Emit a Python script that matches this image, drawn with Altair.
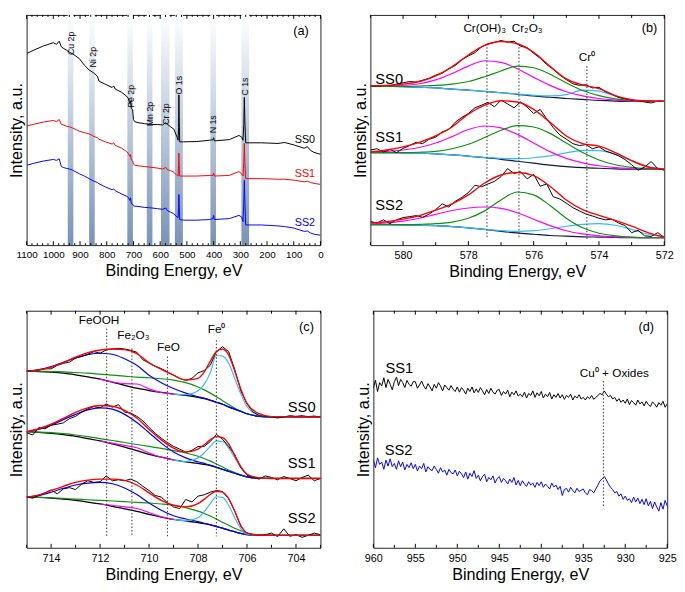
import altair as alt
import pandas as pd

FONT = "Liberation Sans"
W = 300
H_TOP = 235
H_BOT = 242

# ---------------- Panel (a): survey spectra ----------------
A_BE = [1098, 1073, 1037, 1000, 988, 978, 970, 963, 951, 939,
        927, 902, 884, 866, 848, 835, 829, 805, 780, 774,
        768, 744, 726, 720, 714, 711, 708, 703, 700, 695,
        683, 659, 640, 610, 591, 579, 573, 561, 549, 537,
        533, 531, 530, 529, 527, 512, 463, 415, 402, 400,
        397, 341, 305, 295, 290, 287, 285, 283, 280, 220,
        159, 134, 98, 61, 49, 37, 24, 0]
A_SS0 = [600, 610, 623, 633, 628, 638, 620, 616, 610, 603,
         598, 583, 563, 548, 538, 528, 513, 503, 493, 498,
         488, 478, 466, 460, 443, 450, 428, 423, 393, 386,
         383, 380, 378, 377, 376, 383, 378, 370, 363, 338,
         328, 368, 470, 398, 323, 323, 324, 328, 330, 336,
         326, 330, 343, 338, 328, 378, 462, 388, 320, 320,
         318, 321, 313, 303, 308, 296, 290, 284]
A_SS1 = [373, 378, 385, 390, 386, 393, 378, 376, 372, 370,
         366, 356, 352, 348, 340, 336, 331, 323, 316, 320,
         312, 303, 293, 288, 278, 283, 266, 263, 253, 250,
         248, 246, 244, 241, 238, 243, 236, 233, 228, 218,
         216, 248, 288, 258, 216, 216, 216, 218, 218, 225,
         216, 218, 230, 223, 216, 258, 318, 258, 208, 208,
         206, 206, 203, 198, 200, 196, 193, 190]
A_SS2 = [250, 256, 263, 268, 265, 270, 246, 243, 240, 238,
         234, 223, 216, 208, 200, 196, 192, 182, 173, 176,
         170, 160, 153, 150, 140, 148, 130, 128, 123, 122,
         121, 118, 117, 114, 112, 116, 108, 103, 98, 88,
         86, 118, 158, 128, 80, 78, 78, 80, 83, 93,
         80, 83, 93, 88, 73, 128, 203, 138, 63, 63,
         60, 58, 53, 43, 44, 38, 34, 31]
A_STRIP_LO = [946, 866, 723, 650, 597, 545, 412, 296]
A_STRIP_HI = [925, 845, 702, 629, 565, 515, 391, 267]
A_STRIP_LABEL = ["Cu 2p", "Ni 2p", "Fe 2p", "Mn 2p", "Cr 2p", "O 1s", "N 1s", "C 1s"]
A_LABEL_BE = [933, 853, 709, 638, 578, 529, 401, 284]
A_LABEL_Y = [631, 588, 466, 410, 410, 500, 378, 496]
A_TICKS = [1100, 1000, 900, 800, 700, 600, 500, 400, 300, 200, 100, 0]

# ---------------- Panel (b): Cr 2p ----------------
B_BE = [581, 580.5, 580, 579.5, 579, 578.5, 578, 577.5, 577, 576.5,
        576, 575.5, 575, 574.5, 574, 573.5, 573, 572.5, 572]
B_BASE = {"SS0": [497, 496, 495, 493, 491, 487, 484, 480, 476, 471, 466, 462, 458, 455, 452, 450, 449, 449, 449],
          "SS1": [289, 289, 288, 287, 285, 282, 278, 273, 268, 262, 256, 250, 245, 242, 240, 238, 237, 237, 237],
          "SS2": [64, 64, 63, 62, 61, 58, 54, 49, 43, 38, 34, 30, 28, 26, 25, 24, 23, 23, 23]}
B_CROH = {"SS0": [496, 497, 499, 504, 516, 536, 559, 576, 571, 551, 524, 499, 479, 466, 458, 453, 450, 449, 449],
          "SS1": [291, 293, 297, 305, 319, 339, 361, 372, 366, 346, 319, 292, 271, 257, 248, 242, 239, 238, 237],
          "SS2": [66, 69, 75, 84, 96, 108, 116, 119, 115, 101, 81, 61, 45, 35, 29, 26, 24, 23, 23]}
B_CR2O3 = {"SS0": [496, 496, 496, 497, 499, 503, 511, 526, 544, 559, 554, 534, 507, 483, 467, 457, 452, 450, 449],
           "SS1": [289, 289, 289, 290, 293, 301, 315, 336, 359, 373, 369, 349, 319, 289, 266, 251, 243, 239, 237],
           "SS2": [64, 64, 64, 65, 67, 72, 84, 107, 141, 166, 157, 124, 84, 54, 37, 29, 25, 23, 23]}
B_CR0 = {"SS0": [497, 496, 495, 493, 491, 487, 484, 480, 476, 472, 468, 466, 470, 484, 481, 465, 453, 450, 449],
         "SS1": [289, 289, 288, 287, 285, 282, 278, 274, 271, 270, 273, 279, 288, 296, 295, 284, 264, 246, 238],
         "SS2": [64, 64, 63, 62, 61, 58, 54, 49, 45, 43, 45, 51, 59, 65, 67, 62, 49, 34, 25]}
B_FIT = {"SS0": [497, 499, 503, 511, 529, 557, 594, 624, 636, 629, 602, 559, 519, 500, 489, 467, 454, 450, 449],
         "SS1": [291, 297, 307, 321, 341, 369, 409, 437, 451, 447, 424, 384, 341, 317, 309, 289, 264, 244, 237],
         "SS2": [69, 73, 81, 92, 109, 129, 157, 194, 219, 227, 217, 184, 141, 111, 93, 77, 59, 39, 25]}
B_DATA_BE = [581.0, 580.8, 580.6, 580.4, 580.2, 580.0, 579.8, 579.6, 579.4, 579.2,
             579.0, 578.8, 578.6, 578.4, 578.2, 578.0, 577.8, 577.6, 577.4, 577.2,
             577.0, 576.8, 576.6, 576.4, 576.2, 576.0, 575.8, 575.6, 575.4, 575.2,
             575.0, 574.8, 574.6, 574.4, 574.2, 574.0, 573.8, 573.6, 573.4, 573.2,
             573.0, 572.8, 572.6, 572.4, 572.2, 572.0]
B_DATA = {"SS0": [497, 496, 499, 498, 503, 507, 511, 509, 515, 521, 531, 537, 551, 561, 579, 591, 601, 619, 629, 633,
                  639, 634, 637, 621, 617, 599, 584, 564, 549, 531, 517, 504, 499, 501, 491, 493, 479, 471, 461, 457,
                  453, 451, 447, 444, 450, 449],
          "SS1": [297, 301, 291, 299, 289, 302, 311, 321, 317, 331, 337, 354, 361, 384, 399, 411, 429, 437, 446, 432,
                  453, 441, 429, 447, 431, 411, 424, 394, 367, 344, 331, 317, 311, 314, 301, 307, 294, 287, 279, 267,
                  251, 234, 244, 261, 239, 234],
          "SS2": [74, 69, 79, 67, 79, 86, 89, 92, 87, 97, 111, 129, 119, 137, 149, 164, 187, 182, 191, 199,
                  214, 239, 224, 229, 207, 221, 184, 191, 151, 144, 131, 117, 107, 97, 91, 84, 79, 81, 69, 61,
                  39, 46, 29, 27, 39, 24]}
B_MARK_BE = [577.43, 576.45, 574.37]
B_MARK_TOP = [629, 629, 559]
B_MARK_BOT = [19, 19, 19]
B_TICKS = [580, 578, 576, 574, 572]
B_MINOR = [581, 579, 577, 575, 573]

# ---------------- Panel (c): Fe 2p ----------------
C_BE = [715, 714.5, 714, 713.5, 713, 712.5, 712, 711.5, 711, 710.5, 710, 709.5, 709, 708.5,
        708, 707.75, 707.5, 707.25, 707, 706.75, 706.5, 706.25, 706, 705.5, 705, 704, 703]
C_BASE = {"SS0": [540, 539, 537, 534, 529, 523, 516, 507, 497, 488, 481, 475, 470, 466, 460, 456, 451, 445, 439, 431, 424, 417, 410, 402, 400, 400, 400],
          "SS1": [355, 353, 350, 346, 341, 334, 327, 318, 308, 297, 286, 277, 269, 263, 258, 255, 251, 246, 240, 234, 228, 222, 217, 213, 212, 212, 212],
          "SS2": [155, 154, 152, 149, 145, 140, 134, 127, 119, 111, 102, 94, 87, 82, 77, 74, 70, 65, 60, 54, 49, 44, 40, 38, 38, 38, 38]}
C_FEO = {"SS0": [540, 540, 539, 538, 536, 534, 531, 528, 525, 522, 520, 517, 513, 505, 492, 483, 473, 462, 450, 438, 427, 418, 410, 403, 400, 400, 400],
         "SS1": [355, 354, 352, 349, 345, 340, 334, 328, 322, 316, 310, 304, 297, 290, 280, 273, 265, 256, 247, 238, 230, 223, 217, 213, 212, 212, 212],
         "SS2": [155, 154, 153, 151, 149, 147, 145, 143, 141, 139, 137, 134, 130, 123, 112, 105, 97, 88, 78, 69, 60, 52, 45, 39, 38, 38, 38]}
C_FEOOH = {"SS0": [540, 545, 554, 567, 581, 591, 595, 592, 578, 558, 528, 505, 487, 473, 462, 458, 452, 445, 439, 431, 424, 417, 410, 402, 400, 400, 400],
           "SS1": [355, 362, 375, 392, 408, 422, 428, 424, 408, 383, 352, 320, 293, 275, 263, 258, 253, 247, 240, 234, 228, 222, 217, 213, 212, 212, 212],
           "SS2": [155, 160, 170, 182, 192, 198, 200, 196, 183, 163, 137, 115, 98, 88, 80, 75, 71, 65, 60, 54, 49, 44, 40, 38, 38, 38, 38]}
C_FIT = {"SS0": [540, 544, 552, 566, 583, 597, 605, 608, 606, 594, 566, 546, 528, 513, 518, 537, 570, 600, 608, 590, 540, 485, 442, 410, 401, 400, 400],
         "SS1": [355, 364, 378, 396, 414, 428, 435, 433, 420, 397, 362, 330, 305, 293, 302, 315, 330, 340, 337, 318, 282, 248, 225, 214, 212, 212, 212],
         "SS2": [155, 162, 175, 188, 200, 207, 210, 210, 206, 192, 168, 145, 130, 125, 135, 148, 163, 173, 170, 150, 112, 68, 45, 39, 38, 38, 38]}
C_FE2O3_BE = [712, 711.5, 711, 710.5, 710, 709.5, 709]
C_FE2O3 = {"SS0": [516, 507, 502, 501, 486, 475, 470],
           "SS1": [327, 320, 313, 306, 290, 277, 269],
           "SS2": [134, 130, 125, 120, 108, 95, 87]}
C_FE0_BE = [709, 708.5, 708, 707.75, 707.5, 707.25, 707, 706.75, 706.5, 706.25, 706, 705.5, 705, 704, 703]
C_FE0 = {"SS0": [470, 468, 480, 500, 535, 588, 586, 565, 518, 470, 432, 405, 400, 400, 400],
         "SS1": [269, 264, 275, 290, 310, 327, 325, 305, 275, 245, 225, 214, 212, 212, 212],
         "SS2": [87, 83, 92, 110, 135, 156, 154, 130, 92, 58, 42, 38, 38, 38, 38]}
C_DATA_BE = [715, 714.75, 714.5, 714.25, 714, 713.75, 713.5, 713.25, 713, 712.75,
             712.5, 712.25, 712, 711.75, 711.5, 711.25, 711, 710.75, 710.5, 710.25,
             710, 709.75, 709.5, 709.25, 709, 708.75, 708.5, 708.25, 708, 707.75,
             707.5, 707.25, 707, 706.75, 706.5, 706.25, 706, 705.75, 705.5, 705.25,
             705, 704.75, 704.5, 704.25, 704, 703.75, 703.5, 703.25, 703]
C_DATA = {"SS0": [540, 542, 543, 548, 547, 558, 564, 568, 580, 585, 592, 600, 595, 605, 608, 610, 608, 604, 598, 575,
                  565, 555, 548, 538, 528, 518, 512, 518, 535, 542, 558, 600, 615, 600, 545, 480, 440, 415, 404, 402,
                  400, 397, 400, 404, 402, 404, 401, 403, 400],
          "SS1": [352, 345, 368, 364, 375, 378, 382, 395, 402, 415, 425, 432, 428, 440, 430, 438, 415, 412, 402, 388,
                  368, 350, 335, 322, 310, 302, 292, 298, 310, 310, 325, 347, 332, 310, 285, 245, 222, 215, 210, 220,
                  215, 208, 218, 212, 205, 215, 222, 205, 212],
          "SS2": [155, 152, 160, 168, 177, 165, 180, 184, 178, 195, 205, 200, 202, 220, 205, 208, 205, 210, 202, 188,
                  175, 160, 155, 138, 125, 120, 148, 140, 158, 162, 170, 175, 172, 150, 112, 65, 45, 40, 38, 40,
                  45, 34, 58, 35, 40, 32, 38, 45, 40]}
C_MARK_BE = [711.73, 710.7, 709.25, 707.25]
C_MARK_TOP = [670, 610, 585, 635]
C_MARK_BOT = [35, 35, 35, 35]
C_TICKS = [714, 712, 710, 708, 706, 704]
C_MINOR = [715, 713, 711, 709, 707, 705, 703]

# ---------------- Panel (d): Cu 2p ----------------
D_BE = [960, 959.75, 959.5, 959.25, 959, 958.75, 958.5, 958.25, 958, 957.75,
        957.5, 957.25, 957, 956.75, 956.5, 956.25, 956, 955.75, 955.5, 955.25,
        955, 954.75, 954.5, 954.25, 954, 953.75, 953.5, 953.25, 953, 952.75,
        952.5, 952.25, 952, 951.75, 951.5, 951.25, 951, 950.75, 950.5, 950.25,
        950, 949.75, 949.5, 949.25, 949, 948.75, 948.5, 948.25, 948, 947.75,
        947.5, 947.25, 947, 946.75, 946.5, 946.25, 946, 945.75, 945.5, 945.25,
        945, 944.75, 944.5, 944.25, 944, 943.75, 943.5, 943.25, 943, 942.75,
        942.5, 942.25, 942, 941.75, 941.5, 941.25, 941, 940.75, 940.5, 940.25,
        940, 939.75, 939.5, 939.25, 939, 938.75, 938.5, 938.25, 938, 937.75,
        937.5, 937.25, 937, 936.75, 936.5, 936.25, 936, 935.75, 935.5, 935.25,
        935, 934.75, 934.5, 934.25, 934, 933.75, 933.5, 933.25, 933, 932.75,
        932.5, 932.25, 932, 931.75, 931.5, 931.25, 931, 930.75, 930.5, 930.25,
        930, 929.75, 929.5, 929.25, 929, 928.75, 928.5, 928.25, 928, 927.75,
        927.5, 927.25, 927, 926.75, 926.5, 926.25, 926, 925.75, 925.5, 925.25,
        925]
D_SS1 = [488, 512, 478, 505, 495, 520, 490, 515, 500, 483,
         508, 522, 496, 515, 505, 490, 512, 500, 494, 508,
         508, 488, 498, 510, 495, 485, 502, 492, 480, 500,
         488, 505, 495, 480, 498, 490, 482, 496, 485, 478,
         492, 476, 490, 482, 470, 488, 478, 492, 474, 486,
         475, 490, 480, 468, 484, 472, 488, 476, 470, 482,
         484, 466, 478, 470, 482, 462, 476, 468, 480, 464,
         470, 462, 476, 458, 472, 466, 480, 460, 474, 465,
         478, 458, 470, 462, 475, 455, 468, 460, 472, 458,
         468, 454, 466, 460, 470, 452, 464, 458, 468, 455,
         460, 452, 462, 456, 466, 454, 460, 466, 472, 468,
         480, 470, 462, 466, 455, 460, 448, 456, 445, 452,
         442, 455, 438, 450, 444, 436, 452, 440, 446, 434,
         448, 438, 432, 446, 440, 430, 444, 436, 448, 430,
         440]
D_SS2 = [270, 245, 275, 255, 262, 240, 268, 250, 272, 248,
         258, 240, 266, 248, 262, 238, 255, 245, 260, 242,
         255, 235, 250, 242, 258, 232, 248, 240, 236, 250,
         240, 228, 245, 232, 238, 222, 240, 230, 226, 238,
         220, 234, 226, 215, 232, 210, 228, 218, 236, 212,
         222, 205, 218, 225, 202, 215, 208, 220, 198, 212,
         218, 200, 212, 205, 195, 210, 200, 215, 192, 206,
         190, 205, 195, 188, 202, 192, 198, 185, 200, 190,
         202, 185, 195, 188, 180, 198, 186, 192, 178, 188,
         160, 178, 182, 170, 185, 175, 168, 182, 172, 176,
         180, 168, 162, 178, 175, 168, 180, 192, 205, 210,
         218, 208, 195, 185, 178, 168, 172, 158, 165, 148,
         158, 145, 150, 138, 155, 140, 152, 135, 148, 132,
         150, 128, 142, 120, 140, 125, 112, 138, 118, 145,
         128]
D_TICKS = [960, 955, 950, 945, 940, 935, 930, 925]
D_MINOR = [957.5, 952.5, 947.5, 942.5, 937.5, 932.5, 927.5]


# ---------------- helpers ----------------
def long_df(be, series):
    rows = []
    for spec, vals in series.items():
        for b, v in zip(be, vals):
            rows.append({"be": b, "val": v, "spec": spec})
    return pd.DataFrame(rows)


def make_x(lo, hi, values, label_size=11):
    return alt.X("be:Q",
                 scale=alt.Scale(domain=[lo, hi], reverse=True, nice=False, zero=False),
                 axis=alt.Axis(values=values, title="Binding Energy, eV", format="d",
                               labelFontSize=label_size, labelOverlap=False, labelFlush=False))


def make_y(ymax):
    return alt.Y("val:Q", scale=alt.Scale(domain=[0, ymax], nice=False, zero=False),
                 axis=alt.Axis(title="Intensity, a.u.", labels=False, ticks=False,
                               domain=False, grid=False))


def line(df, X, Y, color, width=1.0, interp="linear"):
    return alt.Chart(df).mark_line(color=color, strokeWidth=width, interpolate=interp,
                                   clip=True).encode(x=X, y=Y, detail="spec:N")


def tick_layers(X, major, minor, H, lmaj=5, lmin=3):
    out = []
    for vals, L in ((major, lmaj), (minor, lmin)):
        d = pd.DataFrame({"be": vals})
        base = alt.Chart(d).mark_rule(color="black", strokeWidth=1)
        out.append(base.encode(x=X, y=alt.value(H), y2=alt.value(H - L)))
        out.append(base.encode(x=X, y=alt.value(0), y2=alt.value(L)))
    return out


def text_layer(be, val, labels, X, Y, size, color="black", align="center", angle=0):
    d = pd.DataFrame({"be": be, "val": val, "label": labels})
    return alt.Chart(d).mark_text(font=FONT, fontSize=size, align=align, baseline="middle",
                                  angle=angle, color=color).encode(x=X, y=Y, text="label:N")


def marker_lines(be, top, bot, X, Y):
    d = pd.DataFrame({"be": be, "val": top, "val2": bot})
    return alt.Chart(d).mark_rule(color="#333333", strokeWidth=1, strokeDash=[1.5, 2]).encode(
        x=X, y=Y, y2=alt.Y2("val2:Q"))


# ---------------- panel (a) ----------------
Xa = make_x(0, 1100, A_TICKS, 10)
Ya = make_y(720)
strips = pd.DataFrame({"be": A_STRIP_LO, "hi": A_STRIP_HI})
strip_layer = alt.Chart(strips).mark_rect(
    fill=alt.Gradient(gradient="linear",
                      stops=[alt.GradientStop(color="#ffffff", offset=0),
                             alt.GradientStop(color="#7893b8", offset=1)],
                      x1=0, x2=0, y1=0, y2=1)
).encode(x=Xa, x2=alt.X2("hi:Q"), y=alt.value(0), y2=alt.value(H_TOP))
a_lines = [
    line(long_df(A_BE, {"SS0": A_SS0}), Xa, Ya, "#000000"),
    line(long_df(A_BE, {"SS1": A_SS1}), Xa, Ya, "#ff0000"),
    line(long_df(A_BE, {"SS2": A_SS2}), Xa, Ya, "#0000ff"),
]
a_minor = [v for v in range(0, 1101, 20) if v % 100]
pa = alt.layer(
    strip_layer, *a_lines,
    text_layer(A_LABEL_BE, A_LABEL_Y, A_STRIP_LABEL, Xa, Ya, 9, angle=270),
    text_layer([20], [330], ["SS0"], Xa, Ya, 11, color="#000000", align="right"),
    text_layer([20], [221], ["SS1"], Xa, Ya, 11, color="#ff0000", align="right"),
    text_layer([20], [70], ["SS2"], Xa, Ya, 11, color="#0000ff", align="right"),
    text_layer([73], [668], ["(a)"], Xa, Ya, 13),
    *tick_layers(Xa, A_TICKS, a_minor, H_TOP, 4, 2),
).properties(width=W, height=H_TOP)

# ---------------- panel (b) ----------------
Xb = make_x(572, 581, B_TICKS)
Yb = make_y(719)
pb = alt.layer(
    line(long_df(B_BE, B_BASE), Xb, Yb, "#0d1a40", 1.2, "monotone"),
    line(long_df(B_BE, B_CR0), Xb, Yb, "#33bbff", 1.2, "monotone"),
    line(long_df(B_BE, B_CROH), Xb, Yb, "#ff00ff", 1.2, "monotone"),
    line(long_df(B_BE, B_CR2O3), Xb, Yb, "#109010", 1.2, "monotone"),
    line(long_df(B_DATA_BE, B_DATA), Xb, Yb, "#000000", 1.0),
    line(long_df(B_BE, B_FIT), Xb, Yb, "#ff0000", 1.4, "monotone"),
    marker_lines(B_MARK_BE, B_MARK_TOP, B_MARK_BOT, Xb, Yb),
    text_layer([577.5, 576.2], [679, 679], ["Cr(OH)₃", "Cr₂O₃"], Xb, Yb, 12),
    text_layer([574.37], [586], ["Cr⁰"], Xb, Yb, 12),
    text_layer([580.85, 580.85, 580.85], [519, 336, 124], ["SS0", "SS1", "SS2"], Xb, Yb, 15, align="left"),
    text_layer([572.45], [679], ["(b)"], Xb, Yb, 13),
    *tick_layers(Xb, B_TICKS, B_MINOR, H_TOP, 4, 3),
).properties(width=W, height=H_TOP)

# ---------------- panel (c) ----------------
Xc = make_x(703, 715, C_TICKS)
Yc = make_y(725)
pc = alt.layer(
    line(long_df(C_BE, C_BASE), Xc, Yc, "#000000", 1.3, "monotone"),
    line(long_df(C_BE, C_FEO), Xc, Yc, "#109010", 1.2, "monotone"),
    line(long_df(C_BE, C_FEOOH), Xc, Yc, "#0000ff", 1.2, "monotone"),
    line(long_df(C_FE2O3_BE, C_FE2O3), Xc, Yc, "#ff00ff", 1.2, "monotone"),
    line(long_df(C_FE0_BE, C_FE0), Xc, Yc, "#33bbff", 1.2, "monotone"),
    line(long_df(C_DATA_BE, C_DATA), Xc, Yc, "#000000", 1.0),
    line(long_df(C_BE, C_FIT), Xc, Yc, "#ff0000", 1.4, "monotone"),
    marker_lines(C_MARK_BE, C_MARK_TOP, C_MARK_BOT, Xc, Yc),
    text_layer([712.04, 710.64, 709.21, 707.24], [695, 652, 615, 668],
               ["FeOOH", "Fe₂O₃", "FeO", "Fe⁰"], Xc, Yc, 12),
    text_layer([703.2, 703.2, 703.2], [430, 258, 90], ["SS0", "SS1", "SS2"], Xc, Yc, 15, align="right"),
    text_layer([703.57], [675], ["(c)"], Xc, Yc, 13),
    *tick_layers(Xc, C_TICKS, C_MINOR, H_BOT, 4, 3),
).properties(width=W, height=H_BOT)

# ---------------- panel (d) ----------------
Xd = make_x(925, 960, D_TICKS)
Yd = make_y(725)
pd_ = alt.layer(
    line(long_df(D_BE, {"SS1": D_SS1}), Xd, Yd, "#000000", 1.0),
    line(long_df(D_BE, {"SS2": D_SS2}), Xd, Yd, "#0000ff", 1.0),
    marker_lines([932.6], [510], [125], Xd, Yd),
    text_layer([931.3], [535], ["Cu⁰ + Oxides"], Xd, Yd, 12),
    text_layer([956.9, 957.0], [550, 300], ["SS1", "SS2"], Xd, Yd, 15),
    text_layer([927.5], [675], ["(d)"], Xd, Yd, 13),
    *tick_layers(Xd, D_TICKS, D_MINOR, H_BOT, 4, 3),
).properties(width=W, height=H_BOT)

chart = alt.vconcat(
    alt.hconcat(pa, pb, spacing=28),
    alt.hconcat(pc, pd_, spacing=34),
    spacing=30,
    padding=0,
).configure_view(
    stroke="#222222", strokeWidth=1
).configure_axis(
    labelFont=FONT, titleFont=FONT, labelFontSize=11, titleFontSize=16.5,
    titleFontWeight="normal", labelColor="black", titleColor="black",
    grid=False, domain=False, ticks=False,
).configure_axisX(
    labelPadding=5, titlePadding=3
).configure_axisY(
    titlePadding=2
)

chart.save("out.html", embed_options={"renderer": "svg", "actions": False})
